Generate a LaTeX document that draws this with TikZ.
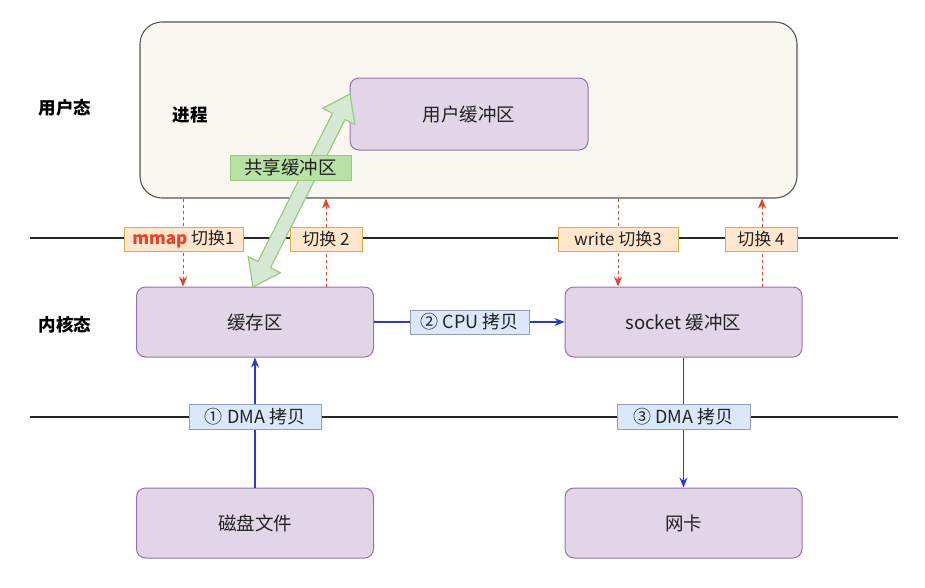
\documentclass[tikz,border=0pt]{standalone}
\usepackage{fontspec}
\setmainfont{Noto Sans CJK SC}
\usetikzlibrary{calc,arrows.meta}
\definecolor{procfill}{HTML}{F9F7EF}
\definecolor{procdraw}{HTML}{555555}
\definecolor{purfill}{HTML}{E1D5E7}
\definecolor{purdraw}{HTML}{9673A6}
\definecolor{orfill}{HTML}{FFE6CC}
\definecolor{ordraw}{HTML}{E0A840}
\definecolor{blfill}{HTML}{DAE8FC}
\definecolor{bldraw}{HTML}{9A9AC0}
\definecolor{grfill}{HTML}{D5E8D4}
\definecolor{grdraw}{HTML}{97CC7F}
\definecolor{grlab}{HTML}{B9E0A5}
\definecolor{arrblue}{HTML}{2A3BCC}
\definecolor{arrred}{HTML}{E8402A}
\definecolor{txt}{HTML}{222222}
\begin{document}
\begin{tikzpicture}[x=1pt,y=-1pt,
  procbox/.style={draw=procdraw,fill=procfill,line width=1.1pt,rounded corners=22pt,inner sep=0pt},
  purbox/.style={draw=purdraw,fill=purfill,line width=1pt,rounded corners=9pt,inner sep=0pt,
    minimum width=237pt,minimum height=70pt,font=\fontsize{18.5}{22}\selectfont,text=txt},
  swlab/.style={draw=ordraw,fill=orfill,line width=1pt,inner sep=0pt,minimum height=24pt,
    font=\fontsize{17}{20}\selectfont,text=txt},
  cplab/.style={draw=bldraw,fill=blfill,line width=0.8pt,inner sep=0pt,minimum height=25pt,
    font=\fontsize{18}{21}\selectfont,text=txt},
  sidelab/.style={font=\fontsize{17.5}{20}\selectfont\bfseries,text=black},
  hline/.style={line width=1.2pt,black!85},
  redarr/.style={arrred,line width=1pt,dashed,dash pattern=on 3pt off 3pt,-{Stealth[length=10pt,width=8pt]}},
  bluarr/.style={arrblue,line width=1.2pt,-{Stealth[length=10pt,width=8pt]}}
]
\useasboundingbox (0,0) rectangle (925,587);
% process box
\node[procbox,minimum width=657pt,minimum height=176pt] (proc) at (468.5,110) {};
\node[purbox,minimum width=238pt,minimum height=72pt] (ubuf) at (469,114) {用户缓冲区};
\node[sidelab] (ptxt) at (190,115) {进程};
\node[sidelab] (user) at (65,108) {用户态};
\node[sidelab] (kern) at (65,325) {内核态};
% lines
\coordinate (l1a) at (30,238); \coordinate (l1b) at (898,238);
\coordinate (l2a) at (30,417); \coordinate (l2b) at (898,417);
\draw[hline] (l1a) -- (l1b);
\draw[hline] (l2a) -- (l2b);
% kernel boxes
\node[purbox] (cache) at (255,322) {缓存区};
\node[purbox] (sock) at (683.5,322) {socket 缓冲区};
\node[purbox] (disk) at (255,523) {磁盘文件};
\node[purbox] (nic) at (683.5,523) {网卡};
% switch label anchors
\coordinate (x1) at (183,239);
\coordinate (x2) at (326,239);
\coordinate (x3) at (618,239);
\coordinate (x4) at (762,239);
\draw[redarr] (x1 |- proc.south) -- (x1 |- cache.north);
\draw[redarr] (x2 |- cache.north) -- (x2 |- proc.south);
\draw[redarr] (x3 |- proc.south) -- (x3 |- sock.north);
\draw[redarr] (x4 |- sock.north) -- (x4 |- proc.south);
\node[swlab,minimum width=119pt] (sw1) at (183.5,239) {\textcolor{arrred}{\bfseries mmap} 切换1};
\node[swlab,minimum width=72pt] (sw2) at (326,239) {切换 2};
\node[swlab,minimum width=120pt] (sw3) at (618,239) {write 切换3};
\node[swlab,minimum width=72pt] (sw4) at (761,239) {切换 4};
% copy arrows
\draw[bluarr] (disk.north) -- (cache.south);
\draw[bluarr] (cache.east) -- (sock.west);
\draw[bluarr] (sock.south) -- (nic.north);
\node[cplab,minimum width=132pt] (dma1) at (255,417) {① DMA 拷贝};
\node[cplab,minimum width=119pt,minimum height=24pt] (cpu) at (469.5,322) {② CPU 拷贝};
\node[cplab,minimum width=133pt] (dma3) at (683.5,417) {③ DMA 拷贝};
% shared buffer double arrow
\coordinate (gA) at (253,287);
\coordinate (gB) at (350,94);
\coordinate (hA) at ($(gA)!25pt!(gB)$);
\coordinate (hB) at ($(gB)!25pt!(gA)$);
\filldraw[fill=grfill,draw=grdraw,line width=1.2pt,line join=miter]
  (gA) -- ($(hA)!18pt!90:(gB)$) -- ($(hA)!7pt!90:(gB)$) -- ($(hB)!7pt!-90:(gA)$)
  -- ($(hB)!18pt!-90:(gA)$) -- (gB) -- ($(hB)!18pt!90:(gA)$) -- ($(hB)!7pt!90:(gA)$)
  -- ($(hA)!7pt!-90:(gB)$) -- ($(hA)!18pt!-90:(gB)$) -- cycle;
\node[draw=grdraw,fill=grlab,line width=1pt,inner sep=0pt,minimum width=121pt,minimum height=25pt,
  font=\fontsize{18.5}{22}\selectfont,text=txt] (share) at (290.5,167.5) {共享缓冲区};
\end{tikzpicture}
\end{document}
